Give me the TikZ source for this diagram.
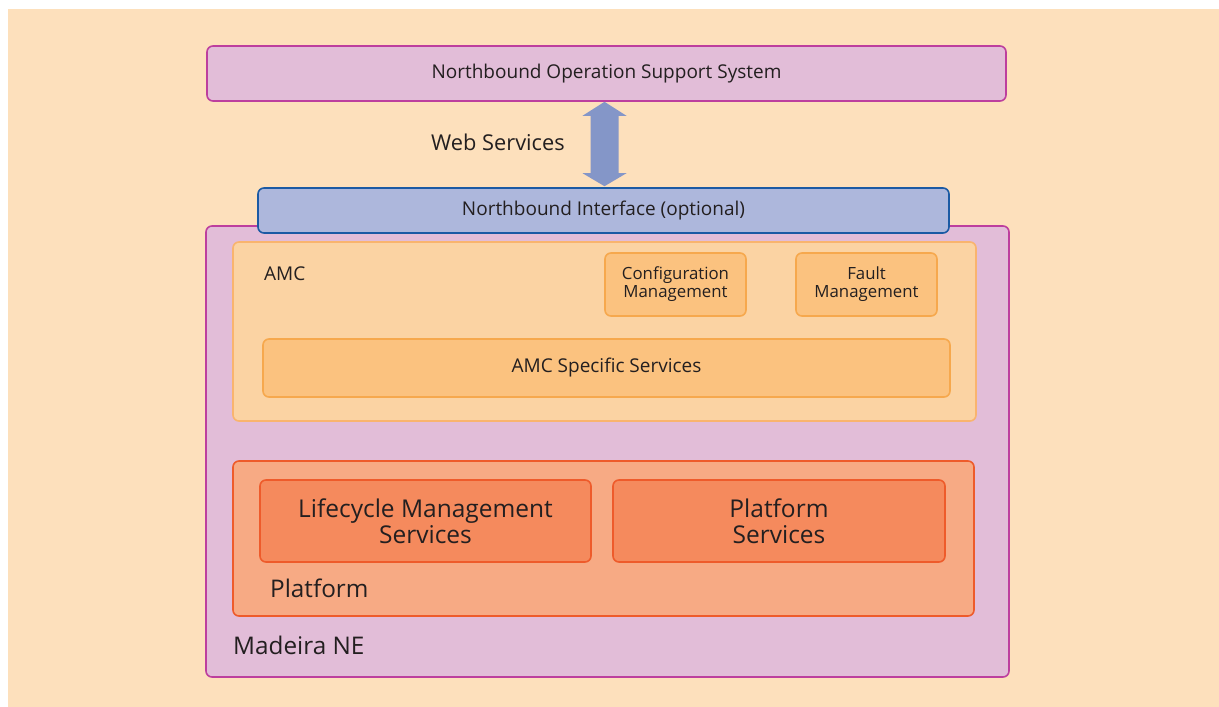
\documentclass[tikz,border=0pt]{standalone}
\usepackage{fontspec}
\setmainfont{Open Sans}
\usetikzlibrary{calc}

\definecolor{peach}{HTML}{FDE0BC}
\definecolor{lavender}{HTML}{E2BDD8}
\definecolor{magentaline}{HTML}{BD3F9E}
\definecolor{nbifill}{HTML}{ADB7DC}
\definecolor{nbiline}{HTML}{1B5AA4}
\definecolor{arrowblue}{HTML}{8496C8}
\definecolor{amcfill}{HTML}{FBD3A3}
\definecolor{amcline}{HTML}{F9B46E}
\definecolor{mgmtfill}{HTML}{FBC27F}
\definecolor{mgmtline}{HTML}{F6A84D}
\definecolor{platfill}{HTML}{F7AA84}
\definecolor{platline}{HTML}{EE5B2B}
\definecolor{svcfill}{HTML}{F58A5D}
\definecolor{ink}{HTML}{231F20}

\tikzset{
  box/.style={draw, rounded corners=6pt, line width=1.6pt, inner sep=0pt, align=center, text=ink},
  label/.style={anchor=west, inner sep=0pt, text=ink},
}

\begin{document}
\begin{tikzpicture}[x=1pt, y=-1pt]
  % Canvas and background
  \useasboundingbox (0,0) rectangle (1219,707);
  \fill[peach] (8,9) rectangle (1219,707);

  % Northbound operation support system
  \node[box, fill=lavender, draw=magentaline, minimum width=799, minimum height=55,
        font=\fontsize{19}{22}\selectfont] (noss) at (606.5,73.5) {Northbound Operation Support System};

  % Madeira network element
  \node[box, fill=lavender, draw=magentaline, minimum width=803, minimum height=451] (ne) at (607.5,451.5) {};
  \node[label, font=\fontsize{24.3}{27}\selectfont] (nelabel) at (233,645) {Madeira NE};

  % Northbound interface, sitting over the top edge of the NE
  \node[box, fill=nbifill, draw=nbiline, minimum width=691, minimum height=45,
        font=\fontsize{19}{22}\selectfont] (nbi) at (603.5,210.5) {Northbound Interface (optional)};

  % Web services double arrow
  \coordinate (top) at ($(noss.south)+(-2,0)$);
  \coordinate (bot) at ($(nbi.north)+(1,-1)$);
  \fill[arrowblue] (top) -- ++(22,14) -- ++(-8,0) -- ($(bot)+(14,-13)$) -- ++(8,0)
    -- (bot) -- ++(-22,-13) -- ++(8,0) -- ($(top)+(-14,14)$) -- ++(-8,0) -- cycle;
  \node[label, font=\fontsize{21.8}{24}\selectfont] (web) at (431,142) {Web Services};

  % AMC
  \node[box, fill=amcfill, draw=amcline, minimum width=743, minimum height=179] (amc) at (604.5,331.5) {};
  \node[label, font=\fontsize{19}{22}\selectfont] (amclabel) at (264,274) {AMC};
  \node[box, fill=mgmtfill, draw=mgmtline, minimum width=141, minimum height=63,
        font=\fontsize{16.8}{18}\selectfont] (config) at (675.5,284.5) {Configuration\\Management};
  \node[box, fill=mgmtfill, draw=mgmtline, minimum width=141, minimum height=63,
        font=\fontsize{16.8}{18}\selectfont] (fault) at (866.5,284.5) {Fault\\Management};
  \node[box, fill=mgmtfill, draw=mgmtline, minimum width=687, minimum height=58,
        font=\fontsize{19}{22}\selectfont] (amcsvc) at (606.5,368) {AMC Specific Services};

  % Platform
  \node[box, fill=platfill, draw=platline, minimum width=741, minimum height=155] (plat) at (603.5,538.5) {};
  \node[label, font=\fontsize{24.3}{27}\selectfont] (platlabel) at (270,588) {Platform};
  \node[box, fill=svcfill, draw=platline, minimum width=331, minimum height=82,
        font=\fontsize{24.5}{26}\selectfont] (lifecycle) at (425.5,521) {Lifecycle Management\\Services};
  \node[box, fill=svcfill, draw=platline, minimum width=332, minimum height=82,
        font=\fontsize{24.5}{26}\selectfont] (platsvc) at (779,521) {Platform\\Services};
\end{tikzpicture}
\end{document}
